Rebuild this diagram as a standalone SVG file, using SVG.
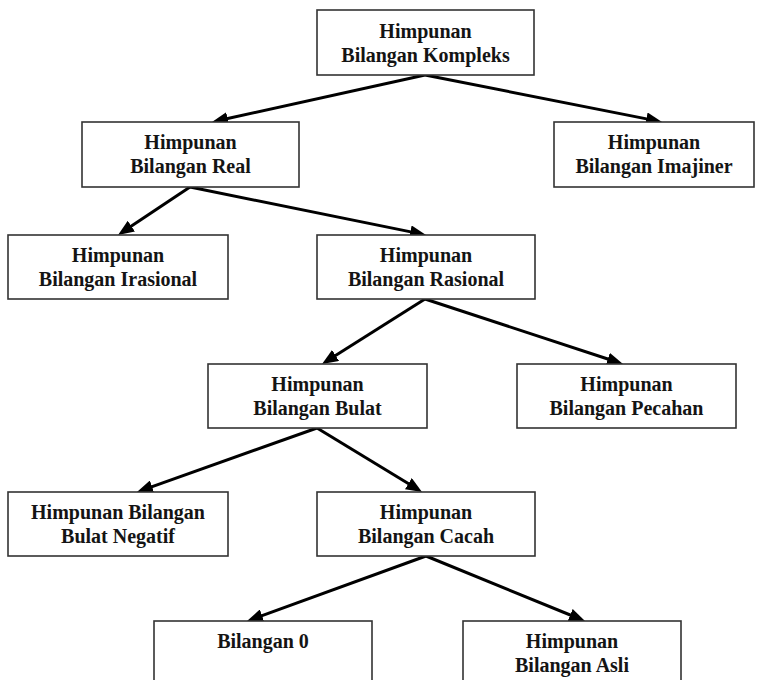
<svg xmlns="http://www.w3.org/2000/svg" width="765" height="680" viewBox="0 0 765 680">
<style>
.box{fill:#fff;stroke:#333;stroke-width:1.6}
.t{font-family:"Liberation Serif","Times New Roman",serif;font-size:20px;font-weight:bold;fill:#141414;text-anchor:middle}
.c{stroke:#000;stroke-width:3;fill:none;marker-end:url(#ah)}
</style>
<defs>
<marker id="ah" markerUnits="userSpaceOnUse" markerWidth="16" markerHeight="13" refX="8" refY="6.5" orient="auto">
<path d="M0,0 L16,6.5 L0,13 Z" fill="#000"/>
</marker>
</defs>
<rect width="765" height="680" fill="#fff"/>
<g id="connectors">
<line class="c" x1="425" y1="75" x2="219.8" y2="120.3"/>
<line class="c" x1="425" y1="75" x2="654.2" y2="120.4"/>
<line class="c" x1="190" y1="187" x2="124.7" y2="230.6"/>
<line class="c" x1="190" y1="187" x2="418.2" y2="233.4"/>
<line class="c" x1="425" y1="299" x2="328.8" y2="359.7"/>
<line class="c" x1="425" y1="299" x2="615.4" y2="361.5"/>
<line class="c" x1="317" y1="428" x2="144.5" y2="489.3"/>
<line class="c" x1="317" y1="428" x2="415.2" y2="487.8"/>
<line class="c" x1="426" y1="556" x2="254.5" y2="618.3"/>
<line class="c" x1="426" y1="556" x2="577.6" y2="618.0"/>
</g>
<g id="n-kompleks"><rect class="box" x="317" y="10" width="217" height="65"/><text class="t" x="425.5" y="38">Himpunan</text><text class="t" x="425.5" y="62">Bilangan Kompleks</text></g>
<g id="n-real"><rect class="box" x="82" y="122" width="217" height="65"/><text class="t" x="190.5" y="149">Himpunan</text><text class="t" x="190.5" y="173">Bilangan Real</text></g>
<g id="n-imajiner"><rect class="box" x="554" y="122" width="200" height="65"/><text class="t" x="654" y="149">Himpunan</text><text class="t" x="654" y="173">Bilangan Imajiner</text></g>
<g id="n-irasional"><rect class="box" x="8" y="235" width="220" height="64"/><text class="t" x="118" y="262">Himpunan</text><text class="t" x="118" y="286">Bilangan Irasional</text></g>
<g id="n-rasional"><rect class="box" x="317" y="235" width="218" height="64"/><text class="t" x="426" y="262">Himpunan</text><text class="t" x="426" y="286">Bilangan Rasional</text></g>
<g id="n-bulat"><rect class="box" x="208" y="364" width="219" height="64"/><text class="t" x="317.5" y="391">Himpunan</text><text class="t" x="317.5" y="415">Bilangan Bulat</text></g>
<g id="n-pecahan"><rect class="box" x="517" y="364" width="219" height="64"/><text class="t" x="626.5" y="391">Himpunan</text><text class="t" x="626.5" y="415">Bilangan Pecahan</text></g>
<g id="n-negatif"><rect class="box" x="8" y="492" width="220" height="64"/><text class="t" x="118" y="519">Himpunan Bilangan</text><text class="t" x="118" y="543">Bulat Negatif</text></g>
<g id="n-cacah"><rect class="box" x="317" y="492" width="218" height="64"/><text class="t" x="426" y="519">Himpunan</text><text class="t" x="426" y="543">Bilangan Cacah</text></g>
<g id="n-nol"><rect class="box" x="154" y="621" width="218" height="75"/><text class="t" x="263" y="648">Bilangan 0</text></g>
<g id="n-asli"><rect class="box" x="463" y="621" width="218" height="75"/><text class="t" x="572" y="648">Himpunan</text><text class="t" x="572" y="672">Bilangan Asli</text></g>
</svg>
